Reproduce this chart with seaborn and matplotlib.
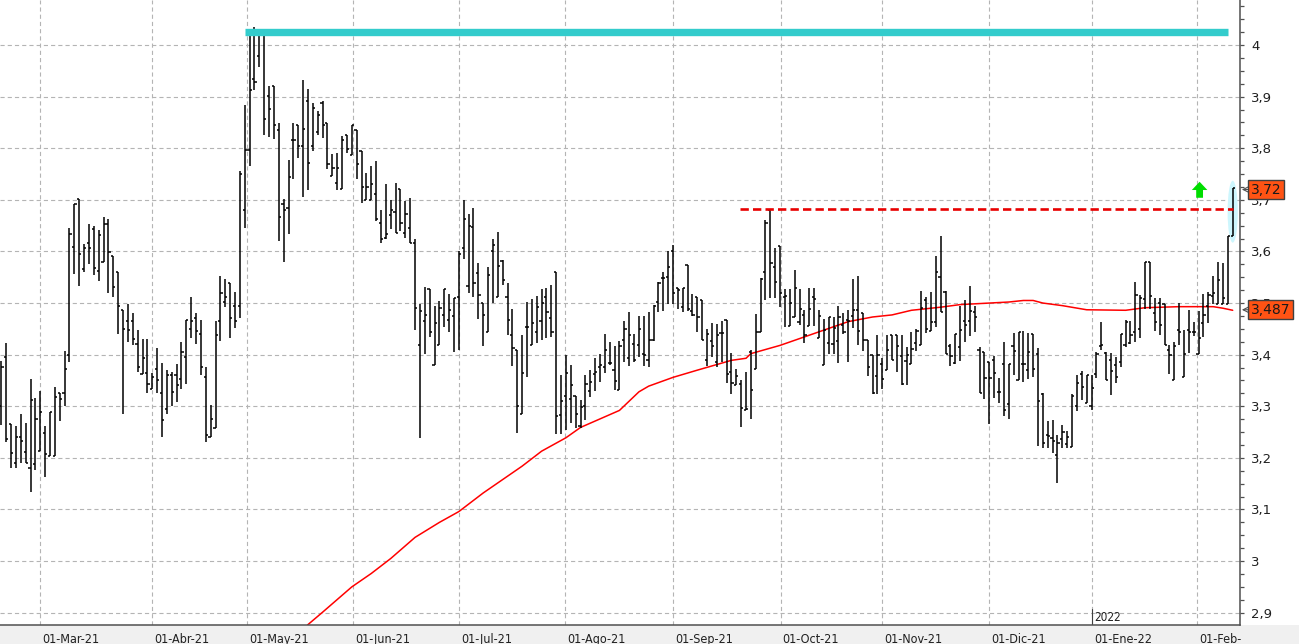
import numpy as np
import pandas as pd
import matplotlib
matplotlib.use("Agg")
import matplotlib.pyplot as plt
import matplotlib.transforms as mtransforms
from matplotlib.patches import Ellipse, Rectangle
from matplotlib.ticker import MultipleLocator
import seaborn as sns

# daily OHLC, one bar per trading day (17-Feb-21 .. 09-Feb-22)
opens = [
    3.300, 3.396, 3.266, 3.191, 3.240, 3.212, 3.181, 3.189, 3.214, 3.249,
    3.204, 3.203, 3.325, 3.325, 3.400, 3.609, 3.702, 3.566, 3.617, 3.644,
    3.562, 3.579, 3.654, 3.592, 3.561, 3.486, 3.466, 3.466, 3.420, 3.362,
    3.365, 3.334, 3.372, 3.325, 3.295, 3.360, 3.360, 3.352, 3.396, 3.450,
    3.472, 3.440, 3.356, 3.241, 3.257, 3.465, 3.503, 3.539, 3.495, 3.495,
    3.681, 3.797, 3.934, 3.979, 4.019, 3.901, 3.921, 3.835, 3.692, 3.684,
    3.816, 3.845, 3.805, 3.892, 3.805, 3.831, 3.887, 3.848, 3.747, 3.732,
    3.721, 3.826, 3.786, 3.835, 3.794, 3.700, 3.700, 3.712, 3.655, 3.626,
    3.671, 3.677, 3.721, 3.635, 3.645, 3.616, 3.419, 3.466, 3.527, 3.380,
    3.418, 3.477, 3.468, 3.475, 3.511, 3.606, 3.533, 3.647, 3.558, 3.501,
    3.443, 3.601, 3.511, 3.582, 3.511, 3.438, 3.409, 3.286, 3.454, 3.418,
    3.444, 3.465, 3.511, 3.472, 3.560, 3.284, 3.319, 3.314, 3.319, 3.261,
    3.300, 3.330, 3.363, 3.376, 3.377, 3.383, 3.371, 3.332, 3.428, 3.393,
    3.420, 3.418, 3.402, 3.389, 3.428, 3.503, 3.548, 3.550, 3.600, 3.530,
    3.493, 3.574, 3.485, 3.511, 3.506, 3.389, 3.426, 3.386, 3.442, 3.467,
    3.367, 3.342, 3.343, 3.292, 3.406, 3.373, 3.444, 3.560, 3.681, 3.569,
    3.611, 3.511, 3.455, 3.473, 3.464, 3.477, 3.456, 3.511, 3.433, 3.380,
    3.422, 3.420, 3.427, 3.457, 3.468, 3.474, 3.487, 3.481, 3.429, 3.400,
    3.359, 3.381, 3.370, 3.439, 3.439, 3.397, 3.387, 3.381, 3.423, 3.418,
    3.505, 3.445, 3.463, 3.550, 3.521, 3.417, 3.383, 3.415, 3.466, 3.466,
    3.483, 3.410, 3.405, 3.386, 3.390, 3.327, 3.381, 3.305, 3.417, 3.350,
    3.381, 3.371, 3.440, 3.401, 3.323, 3.245, 3.238, 3.205, 3.237, 3.226,
    3.221, 3.301, 3.363, 3.306, 3.300, 3.362, 3.416, 3.403, 3.390, 3.380,
    3.386, 3.419, 3.422, 3.443, 3.449, 3.508, 3.579, 3.481, 3.500, 3.499,
    3.409, 3.351, 3.448, 3.356, 3.448, 3.443, 3.401, 3.461, 3.495, 3.513,
    3.499, 3.499, 3.499, 3.629]
highs = [
    3.388, 3.423, 3.266, 3.262, 3.285, 3.267, 3.352, 3.317, 3.330, 3.262,
    3.288, 3.338, 3.325, 3.408, 3.646, 3.692, 3.702, 3.614, 3.654, 3.650,
    3.641, 3.667, 3.663, 3.592, 3.561, 3.486, 3.499, 3.481, 3.447, 3.430,
    3.431, 3.365, 3.412, 3.383, 3.370, 3.366, 3.381, 3.425, 3.468, 3.512,
    3.480, 3.468, 3.376, 3.302, 3.466, 3.552, 3.546, 3.539, 3.521, 3.756,
    3.884, 4.023, 4.034, 4.030, 4.019, 3.921, 3.921, 3.848, 3.701, 3.777,
    3.848, 3.845, 3.932, 3.914, 3.887, 3.873, 3.892, 3.848, 3.788, 3.790,
    3.824, 3.826, 3.845, 3.835, 3.795, 3.752, 3.765, 3.775, 3.681, 3.731,
    3.700, 3.732, 3.721, 3.698, 3.703, 3.624, 3.499, 3.531, 3.527, 3.494,
    3.504, 3.528, 3.517, 3.509, 3.601, 3.700, 3.673, 3.684, 3.577, 3.501,
    3.569, 3.624, 3.637, 3.583, 3.538, 3.488, 3.409, 3.438, 3.503, 3.508,
    3.514, 3.527, 3.530, 3.535, 3.560, 3.360, 3.399, 3.380, 3.319, 3.313,
    3.360, 3.370, 3.394, 3.402, 3.440, 3.424, 3.417, 3.426, 3.465, 3.482,
    3.440, 3.475, 3.475, 3.483, 3.496, 3.540, 3.561, 3.601, 3.613, 3.530,
    3.530, 3.574, 3.517, 3.511, 3.506, 3.449, 3.461, 3.459, 3.465, 3.467,
    3.404, 3.372, 3.350, 3.367, 3.409, 3.479, 3.548, 3.661, 3.681, 3.606,
    3.611, 3.528, 3.528, 3.565, 3.528, 3.486, 3.530, 3.530, 3.486, 3.470,
    3.473, 3.473, 3.494, 3.481, 3.486, 3.546, 3.552, 3.481, 3.429, 3.400,
    3.439, 3.394, 3.439, 3.439, 3.439, 3.439, 3.414, 3.444, 3.450, 3.523,
    3.512, 3.521, 3.592, 3.629, 3.523, 3.421, 3.441, 3.495, 3.506, 3.534,
    3.494, 3.414, 3.405, 3.386, 3.398, 3.355, 3.425, 3.381, 3.442, 3.444,
    3.446, 3.442, 3.440, 3.413, 3.325, 3.272, 3.274, 3.245, 3.264, 3.253,
    3.323, 3.360, 3.369, 3.360, 3.360, 3.406, 3.463, 3.406, 3.403, 3.396,
    3.440, 3.468, 3.466, 3.540, 3.515, 3.580, 3.580, 3.510, 3.510, 3.499,
    3.419, 3.425, 3.500, 3.448, 3.486, 3.464, 3.484, 3.518, 3.521, 3.552,
    3.580, 3.578, 3.629, 3.722]
lows = [
    3.263, 3.230, 3.180, 3.181, 3.190, 3.190, 3.134, 3.177, 3.214, 3.162,
    3.203, 3.203, 3.272, 3.300, 3.386, 3.557, 3.533, 3.560, 3.575, 3.555,
    3.543, 3.579, 3.519, 3.512, 3.441, 3.285, 3.424, 3.419, 3.367, 3.362,
    3.326, 3.334, 3.325, 3.241, 3.286, 3.300, 3.308, 3.334, 3.344, 3.433,
    3.421, 3.361, 3.230, 3.241, 3.257, 3.427, 3.492, 3.432, 3.452, 3.471,
    3.645, 3.765, 3.912, 3.958, 3.825, 3.821, 3.817, 3.621, 3.579, 3.634,
    3.741, 3.781, 3.705, 3.719, 3.795, 3.825, 3.819, 3.759, 3.747, 3.719,
    3.721, 3.790, 3.786, 3.741, 3.694, 3.700, 3.700, 3.659, 3.616, 3.625,
    3.644, 3.635, 3.639, 3.626, 3.616, 3.447, 3.239, 3.401, 3.435, 3.380,
    3.418, 3.454, 3.444, 3.406, 3.409, 3.585, 3.520, 3.511, 3.470, 3.417,
    3.443, 3.501, 3.511, 3.535, 3.438, 3.378, 3.248, 3.285, 3.356, 3.418,
    3.423, 3.429, 3.433, 3.435, 3.247, 3.247, 3.255, 3.268, 3.257, 3.257,
    3.273, 3.318, 3.330, 3.347, 3.365, 3.380, 3.331, 3.332, 3.386, 3.378,
    3.386, 3.395, 3.378, 3.376, 3.427, 3.483, 3.484, 3.499, 3.499, 3.489,
    3.483, 3.484, 3.475, 3.444, 3.428, 3.378, 3.395, 3.376, 3.386, 3.346,
    3.323, 3.342, 3.259, 3.292, 3.276, 3.373, 3.444, 3.505, 3.509, 3.509,
    3.493, 3.454, 3.455, 3.473, 3.457, 3.423, 3.456, 3.456, 3.433, 3.380,
    3.401, 3.401, 3.384, 3.440, 3.385, 3.452, 3.419, 3.408, 3.358, 3.324,
    3.324, 3.334, 3.370, 3.390, 3.366, 3.341, 3.342, 3.381, 3.408, 3.418,
    3.442, 3.445, 3.454, 3.482, 3.401, 3.379, 3.381, 3.387, 3.425, 3.437,
    3.444, 3.326, 3.314, 3.266, 3.316, 3.306, 3.281, 3.275, 3.360, 3.350,
    3.348, 3.352, 3.356, 3.223, 3.219, 3.219, 3.210, 3.152, 3.219, 3.219,
    3.221, 3.290, 3.313, 3.306, 3.292, 3.354, 3.410, 3.351, 3.321, 3.346,
    3.377, 3.414, 3.421, 3.425, 3.432, 3.488, 3.488, 3.445, 3.438, 3.419,
    3.362, 3.351, 3.419, 3.356, 3.403, 3.436, 3.401, 3.434, 3.461, 3.499,
    3.499, 3.499, 3.499, 3.629]
closes = [
    3.377, 3.237, 3.210, 3.240, 3.232, 3.191, 3.312, 3.276, 3.288, 3.207,
    3.288, 3.318, 3.314, 3.373, 3.634, 3.691, 3.595, 3.607, 3.607, 3.568,
    3.631, 3.654, 3.599, 3.532, 3.494, 3.450, 3.448, 3.430, 3.377, 3.394,
    3.343, 3.357, 3.350, 3.274, 3.360, 3.328, 3.341, 3.405, 3.468, 3.466,
    3.445, 3.377, 3.245, 3.276, 3.439, 3.519, 3.512, 3.471, 3.466, 3.750,
    3.797, 3.913, 3.928, 4.021, 3.857, 3.876, 3.845, 3.666, 3.681, 3.744,
    3.816, 3.805, 3.837, 3.771, 3.877, 3.865, 3.845, 3.769, 3.761, 3.761,
    3.816, 3.799, 3.845, 3.769, 3.725, 3.725, 3.731, 3.663, 3.624, 3.634,
    3.681, 3.635, 3.655, 3.673, 3.616, 3.490, 3.484, 3.477, 3.443, 3.461,
    3.490, 3.527, 3.486, 3.509, 3.596, 3.662, 3.650, 3.538, 3.516, 3.477,
    3.554, 3.613, 3.572, 3.545, 3.467, 3.412, 3.300, 3.365, 3.454, 3.461,
    3.493, 3.501, 3.483, 3.443, 3.281, 3.310, 3.365, 3.342, 3.286, 3.299,
    3.343, 3.347, 3.367, 3.380, 3.410, 3.384, 3.349, 3.417, 3.449, 3.438,
    3.390, 3.450, 3.400, 3.428, 3.495, 3.538, 3.549, 3.569, 3.519, 3.525,
    3.530, 3.488, 3.477, 3.473, 3.428, 3.441, 3.417, 3.438, 3.442, 3.363,
    3.345, 3.358, 3.297, 3.294, 3.332, 3.444, 3.547, 3.655, 3.577, 3.541,
    3.519, 3.513, 3.501, 3.530, 3.488, 3.438, 3.488, 3.508, 3.475, 3.448,
    3.473, 3.451, 3.473, 3.444, 3.465, 3.487, 3.446, 3.429, 3.376, 3.326,
    3.400, 3.353, 3.410, 3.390, 3.417, 3.344, 3.400, 3.411, 3.445, 3.490,
    3.450, 3.463, 3.561, 3.482, 3.401, 3.398, 3.441, 3.448, 3.458, 3.485,
    3.473, 3.326, 3.355, 3.355, 3.365, 3.327, 3.292, 3.381, 3.408, 3.444,
    3.381, 3.406, 3.373, 3.310, 3.228, 3.242, 3.232, 3.228, 3.250, 3.240,
    3.319, 3.346, 3.338, 3.360, 3.335, 3.401, 3.418, 3.351, 3.369, 3.357,
    3.440, 3.464, 3.438, 3.516, 3.510, 3.579, 3.513, 3.464, 3.458, 3.419,
    3.399, 3.416, 3.443, 3.401, 3.443, 3.443, 3.432, 3.477, 3.516, 3.519,
    3.545, 3.510, 3.629, 3.722]

# moving average (red line), read at some bars
ma_bar = [61, 64, 67, 73, 77, 81, 86, 91, 95, 100, 104, 108, 112, 117, 120,
          128, 132, 134, 139, 144, 151, 154, 155, 161, 168, 175, 180, 184,
          188, 194, 198, 204, 208, 211, 213, 215, 219, 224, 232, 236, 243,
          250, 252, 254]
ma_val = [2.845, 2.877, 2.901, 2.950, 2.976, 3.005, 3.046, 3.075, 3.096,
          3.132, 3.158, 3.184, 3.213, 3.239, 3.259, 3.292, 3.328, 3.339,
          3.356, 3.370, 3.389, 3.393, 3.402, 3.418, 3.441, 3.464, 3.473,
          3.477, 3.486, 3.492, 3.497, 3.500, 3.502, 3.505, 3.505, 3.500,
          3.495, 3.487, 3.486, 3.491, 3.493, 3.493, 3.490, 3.486]

# month ticks (bar number of first session)
month_bar = [9, 32, 51.5, 73.2, 95.1, 116.9, 139.1, 161.1, 182, 204, 225.1, 246.7]
month_labels = ["01-Mar-21", "01-Abr-21", "01-May-21", "01-Jun-21", "01-Jul-21",
                "01-Ago-21", "01-Sep-21", "01-Oct-21", "01-Nov-21", "01-Dic-21",
                "01-Ene-22", "01-Feb-"]
y_ticks = [2.9, 3.0, 3.1, 3.2, 3.3, 3.4, 3.5, 3.6, 3.7, 3.8, 3.9, 4.0]
y_labels = ["2,9", "3", "3,1", "3,2", "3,3", "3,4", "3,5", "3,6", "3,7", "3,8", "3,9", "4"]

top_level = 4.026          # cyan line
top_bars = (51.1, 253.0)
break_level = 3.682        # red dashed line
break_bars = (152.8, 254.1)
last_close = 3.72
last_ma = 3.487

df = pd.DataFrame({"bar": np.arange(1, len(closes) + 1), "open": opens,
                   "high": highs, "low": lows, "close": closes})
ma = pd.DataFrame({"bar": ma_bar, "ma": ma_val})

sns.set_style("white")
plt.rcParams["font.family"] = ["DejaVu Sans"]
plt.rcParams["lines.scale_dashes"] = False

W, H = 1299, 644
fig = plt.figure(figsize=(W / 100, H / 100), dpi=100)
fig.patch.set_facecolor("white")
fig.add_artist(Rectangle((0, 0), 1, 19 / H, transform=fig.transFigure,
                         facecolor="#f0f0f0", edgecolor="none", zorder=-1))
ax = fig.add_axes([0, 19 / H, 1240 / W, 625 / H])
ax.set_facecolor("white")

# grid
for yv in y_ticks:
    ax.axhline(yv, color="#b4b4b4", lw=0.8, dashes=(3, 2.2), zorder=0)
for xv in month_bar:
    ax.axvline(xv, color="#b4b4b4", lw=0.8, dashes=(3, 2.2), zorder=0)

# highlight of last bar
ax.add_patch(Ellipse((254, 3.677), width=2.1, height=0.12,
                     facecolor="#cdf6fd", edgecolor="none", zorder=1))

# OHLC bars
ax.vlines(df["bar"], df["low"], df["high"], color="black", lw=1.1, zorder=3)
ax.hlines(df["open"], df["bar"] - 0.45, df["bar"], color="black", lw=1.1, zorder=3)
ax.hlines(df["close"], df["bar"], df["bar"] + 0.45, color="black", lw=1.1, zorder=3)

# moving average
sns.lineplot(data=ma, x="bar", y="ma", color="#ff0000", lw=1.1, ax=ax, zorder=2)

# levels
ax.plot(top_bars, [top_level] * 2, color="#33cccc", lw=5.3,
        solid_capstyle="butt", zorder=4)
ax.plot(break_bars, [break_level] * 2, color="#e80000", lw=1.9,
        dashes=(6, 3), zorder=4)

# green arrow
ax.arrow(247.2, 3.704, 0, 0.015, width=1.4, head_width=3.2,
         head_length=0.016, color="#00dd00", lw=0, zorder=5)

ax.set_xlim(0.72, 255.5)
ax.set_ylim(2.8762, 4.0872)
ax.set_xlabel("")
ax.set_ylabel("")

# axes styling
for s in ["top", "left"]:
    ax.spines[s].set_visible(False)
for s in ["right", "bottom"]:
    ax.spines[s].set_color("#505050")
    ax.spines[s].set_linewidth(1.1)

ax.yaxis.tick_right()
ax.set_yticks(y_ticks, y_labels)
ax.yaxis.set_minor_locator(MultipleLocator(0.025))
ax.tick_params(axis="y", which="both", direction="out", length=3,
               width=0.9, color="#505050", pad=5, labelsize=9.5,
               labelcolor="#202020")

narrow = ["Liberation Sans Narrow", "DejaVu Sans"]
ax.set_xticks(month_bar, month_labels)
ax.tick_params(axis="x", direction="out", length=5, width=0.9,
               color="#505050", pad=0.5, labelsize=9, labelcolor="#202020")
offset = mtransforms.ScaledTranslation(2 / 100, 0, fig.dpi_scale_trans)
for lab in ax.get_xticklabels():
    lab.set_horizontalalignment("left")
    lab.set_family(narrow)
    lab.set_stretch("condensed")
    lab.set_transform(lab.get_transform() + offset)

# year marker
ax.axvline(225.1, ymin=0, ymax=0.025, color="#404040", lw=0.8)
ax.text(225.5, 2.8775, "2022", fontsize=8.5, va="bottom", ha="left",
        family=narrow, stretch="condensed", color="#202020")

# value boxes on the price axis
blend = mtransforms.blended_transform_factory(ax.transAxes, ax.transData)
for val, txt in [(last_close, "3,72"), (last_ma, "3,487")]:
    ax.text(1.0085, val, txt, transform=blend, va="center", ha="left",
            fontsize=10, color="#1a1a1a", clip_on=False, zorder=6,
            bbox=dict(boxstyle="square,pad=0.18", facecolor="#ff5314",
                      edgecolor="#404040", lw=1))
    ax.annotate("", xy=(1.0015, val), xytext=(1.008, val), xycoords=blend,
                textcoords=blend, annotation_clip=False,
                arrowprops=dict(arrowstyle="->", color="#505050", lw=0.8,
                                shrinkA=0, shrinkB=0))

fig.savefig("out.png", dpi=100)
